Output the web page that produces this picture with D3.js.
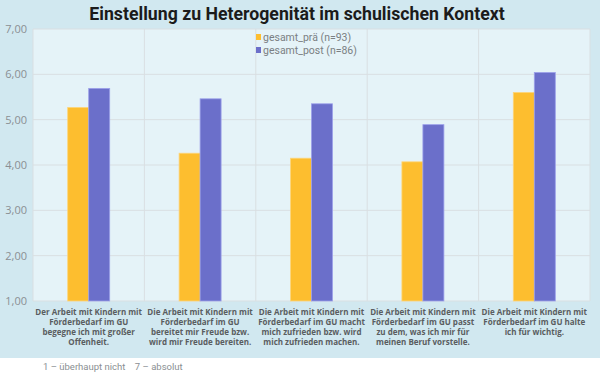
<!DOCTYPE html>
<html>
<head>
<meta charset="utf-8">
<script src="https://cdn.jsdelivr.net/npm/d3@7"></script>
<style>
  body { margin: 0; background: #fff; }
  svg { display: block; }
</style>
</head>
<body>
<div id="chart"></div>
<script>
const categories = [
  ["Der Arbeit mit Kindern mit", "Förderbedarf im GU", "begegne ich mit großer", "Offenheit."],
  ["Die Arbeit mit Kindern mit", "Förderbedarf im GU", "bereitet mir Freude bzw.", "wird mir Freude bereiten."],
  ["Die Arbeit mit Kindern mit", "Förderbedarf im GU macht", "mich zufrieden bzw. wird", "mich zufrieden machen."],
  ["Die Arbeit mit Kindern mit", "Förderbedarf im GU passt", "zu dem, was ich mir für", "meinen Beruf vorstelle."],
  ["Die Arbeit mit Kindern mit", "Förderbedarf im GU halte", "ich für wichtig."]
];
const seriesNames = ["gesamt_prä (n=93)", "gesamt_post (n=86)"];
const pre = [5.27, 4.26, 4.15, 4.07, 5.60];
const post = [5.69, 5.46, 5.35, 4.89, 6.04];
const yTicks = [1, 2, 3, 4, 5, 6, 7];
const colors = ["#fdbe2f", "#6b6fca"];

const width = 600, height = 379;
const margin = { top: 29, right: 10, bottom: 78, left: 33 };

const svg = d3.select("#chart").append("svg")
  .attr("width", width).attr("height", height);

// backgrounds
svg.append("rect").attr("width", width).attr("height", 358).attr("fill", "#d1e8f0");
svg.append("rect")
  .attr("x", margin.left).attr("y", margin.top)
  .attr("width", width - margin.left - margin.right)
  .attr("height", height - margin.top - margin.bottom)
  .attr("fill", "#e5f3f8");

const idx = d3.range(categories.length);
const x = d3.scaleBand().domain(idx).range([margin.left, width - margin.right]);
const xSub = d3.scaleBand().domain([0, 1]).range([x.bandwidth() / 2 - 21, x.bandwidth() / 2 + 21]);
const y = d3.scaleLinear().domain([1, 7]).range([height - margin.bottom, margin.top]);

// horizontal grid
svg.append("g")
  .selectAll("line").data(yTicks).join("line")
  .attr("x1", margin.left).attr("x2", width - margin.right)
  .attr("y1", d => y(d)).attr("y2", d => y(d))
  .attr("stroke", "#d9dfe2").attr("stroke-width", 1);

// vertical dividers
svg.append("g")
  .selectAll("line").data(d3.range(categories.length + 1)).join("line")
  .attr("x1", d => margin.left + d * x.step()).attr("x2", d => margin.left + d * x.step())
  .attr("y1", margin.top).attr("y2", height - margin.bottom)
  .attr("stroke", "#d9dfe2").attr("stroke-width", 1);

// y axis labels
const yAxis = d3.axisLeft(y).tickValues(yTicks).tickSize(0).tickPadding(6)
  .tickFormat(d => d3.format(".2f")(d).replace(".", ","));
svg.append("g")
  .attr("transform", `translate(${margin.left},0)`)
  .call(yAxis)
  .call(g => g.select(".domain").remove())
  .call(g => g.selectAll("text")
    .attr("fill", "#8a8f93")
    .attr("font-family", "'Liberation Sans Narrow', 'Open Sans', sans-serif")
    .attr("font-size", "11px"));

// bars
const data = [pre, post];
data.forEach((vals, s) => {
  svg.append("g").selectAll("rect").data(vals).join("rect")
    .attr("x", (d, i) => x(i) + xSub(s))
    .attr("y", d => y(d))
    .attr("width", xSub.bandwidth())
    .attr("height", d => y(1) - y(d))
    .attr("fill", colors[s])
    .attr("stroke", s === 1 ? "#9ca0ea" : "#fdd57a")
    .attr("stroke-width", 0.8);
});

// category labels
const lab = svg.append("g")
  .attr("font-family", "'Open Sans', 'DejaVu Sans', sans-serif")
  .attr("font-size", "8px")
  .attr("font-weight", "bold")
  .attr("fill", "#5a5d60")
  .attr("text-anchor", "middle");
categories.forEach((lines, i) => {
  const t = lab.append("text").attr("x", x(i) + x.bandwidth() / 2).attr("y", 315);
  lines.forEach((l, j) => {
    t.append("tspan").attr("x", x(i) + x.bandwidth() / 2).attr("dy", j === 0 ? 0 : 10).text(l);
  });
});

// legend
const leg = svg.append("g").attr("transform", "translate(256,34)");
seriesNames.forEach((n, i) => {
  leg.append("rect").attr("x", 0).attr("y", i * 13).attr("width", 5).attr("height", 6).attr("fill", colors[i]);
  leg.append("text").attr("x", 7).attr("y", i * 13 + 6.5)
    .attr("font-family", "'Liberation Sans Narrow', 'Roboto', sans-serif")
    .attr("font-size", "10.5px").attr("fill", "#7b7f83").text(n);
});

// title
svg.append("text")
  .attr("x", 297).attr("y", 20)
  .attr("text-anchor", "middle")
  .attr("font-family", "'Liberation Sans Narrow', 'Roboto', sans-serif")
  .attr("font-weight", "bold")
  .attr("font-size", "17.7px")
  .attr("fill", "#1b1b1b")
  .text("Einstellung zu Heterogenität im schulischen Kontext");

// footnote
svg.append("text")
  .attr("x", 43).attr("y", 370)
  .attr("font-family", "'Liberation Sans Narrow', 'Roboto', sans-serif")
  .attr("font-size", "9.5px").attr("fill", "#8a8f93")
  .attr("xml:space", "preserve")
  .text("1 – überhaupt nicht    7 – absolut");
</script>
</body>
</html>
